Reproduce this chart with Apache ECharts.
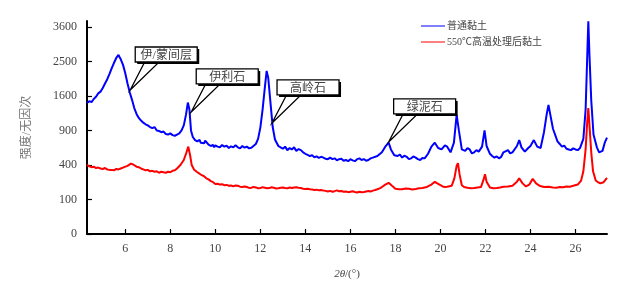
<!DOCTYPE html>
<html lang="zh-CN">
<head>
  <meta charset="utf-8">
  <title>XRD</title>
  <script src="https://cdn.jsdelivr.net/npm/echarts@6/dist/echarts.min.js"></script>
  <style>
    html, body { margin: 0; padding: 0; background: #fff; }
    #main { width: 629px; height: 287px; }
  </style>
</head>
<body>
  <div id="main"></div>
  <script>
    // 图例名称
    var seriesNames = ['普通黏土', '550℃高温处理后黏土'];

    // 刻度
    var xTicks = [6, 8, 10, 12, 14, 16, 18, 20, 22, 24, 26];
    var yTicks = [0, 100, 400, 900, 1600, 2500, 3600];

    // 普通黏土 [2θ, 强度]
    var rawClay = [
      [4.3, 1440], [4.4, 1480], [4.5, 1460], [4.6, 1530], [4.7, 1580], [4.8, 1660], [4.9, 1700],
      [5.0, 1790], [5.1, 1900], [5.2, 2010], [5.3, 2150], [5.4, 2310], [5.5, 2460], [5.6, 2600],
      [5.7, 2690], [5.75, 2620], [5.8, 2560], [5.9, 2400], [6.0, 2170], [6.1, 1900], [6.2, 1680],
      [6.3, 1510], [6.4, 1330], [6.5, 1210], [6.6, 1130], [6.7, 1080], [6.8, 1040], [6.9, 1010],
      [7.0, 990], [7.1, 960], [7.2, 940], [7.3, 960], [7.4, 900], [7.5, 890], [7.6, 870],
      [7.7, 880], [7.8, 840], [7.9, 830], [8.0, 850], [8.1, 820], [8.2, 810], [8.3, 830],
      [8.4, 850], [8.5, 900], [8.6, 990], [8.7, 1200], [8.78, 1450], [8.85, 1300], [8.92, 900],
      [9.0, 790], [9.05, 760], [9.1, 740], [9.15, 760], [9.2, 720], [9.3, 745], [9.35, 700],
      [9.4, 715], [9.5, 690], [9.55, 730], [9.6, 700], [9.7, 670], [9.75, 690], [9.8, 650],
      [9.9, 665], [9.95, 630], [10.0, 660], [10.1, 640], [10.2, 630], [10.3, 665], [10.4, 640],
      [10.5, 655], [10.6, 620], [10.7, 645], [10.8, 630], [10.9, 660], [11.0, 630], [11.1, 615],
      [11.2, 650], [11.3, 625], [11.4, 640], [11.5, 615], [11.6, 625], [11.8, 680], [11.9, 760],
      [12.0, 950], [12.1, 1300], [12.2, 1800], [12.28, 2230], [12.35, 2050], [12.45, 1450],
      [12.55, 960], [12.65, 750], [12.8, 650], [12.9, 630], [13.0, 610], [13.1, 640], [13.2, 590],
      [13.3, 620], [13.4, 600], [13.5, 630], [13.6, 580], [13.7, 605], [13.8, 590], [13.9, 560],
      [14.0, 540], [14.1, 525], [14.2, 510], [14.3, 520], [14.4, 495], [14.5, 505], [14.6, 485],
      [14.7, 500], [14.8, 490], [14.9, 475], [15.0, 470], [15.1, 490], [15.2, 470], [15.3, 480],
      [15.4, 455], [15.5, 470], [15.6, 475], [15.7, 450], [15.8, 460], [15.9, 445], [16.0, 470],
      [16.1, 455], [16.2, 445], [16.3, 470], [16.4, 480], [16.5, 460], [16.6, 470], [16.7, 450],
      [16.8, 460], [16.9, 480], [17.0, 490], [17.2, 510], [17.4, 560], [17.55, 640], [17.7, 700],
      [17.8, 600], [17.95, 520], [18.1, 510], [18.2, 530], [18.3, 490], [18.4, 515], [18.5, 500],
      [18.6, 470], [18.7, 480], [18.8, 505], [18.9, 490], [19.0, 470], [19.1, 460], [19.2, 485],
      [19.3, 480], [19.45, 540], [19.6, 640], [19.75, 700], [19.9, 620], [20.05, 600],
      [20.2, 660], [20.3, 640], [20.45, 560], [20.6, 700], [20.72, 1190], [20.82, 900], [20.95, 600],
      [21.1, 580], [21.2, 620], [21.3, 600], [21.4, 545], [21.5, 560], [21.6, 590], [21.7, 570],
      [21.85, 640], [21.96, 900], [22.05, 650], [22.2, 540], [22.3, 510], [22.4, 490], [22.5, 505],
      [22.6, 480], [22.7, 500], [22.8, 560], [23.0, 590], [23.1, 545], [23.2, 560], [23.4, 650],
      [23.5, 740], [23.6, 630], [23.75, 570], [23.9, 620], [24.0, 650], [24.15, 740], [24.3, 640],
      [24.45, 620], [24.6, 870], [24.72, 1200], [24.8, 1400], [24.9, 1150], [25.0, 930], [25.2, 720],
      [25.3, 680], [25.4, 640], [25.5, 655], [25.6, 610], [25.7, 600], [25.8, 590], [25.9, 615],
      [26.0, 600], [26.1, 590], [26.2, 620], [26.35, 760], [26.45, 1300],
      [26.52, 2600], [26.57, 3800], [26.62, 2700], [26.7, 1500], [26.8, 830], [26.95, 630],
      [27.05, 560], [27.1, 540], [27.2, 580], [27.3, 700], [27.4, 780]
    ];

    // 550℃高温处理后黏土 [2θ, 强度]
    var heatedClay = [
      [4.3, 400], [4.4, 385], [4.5, 375], [4.6, 380], [4.7, 365], [4.8, 370], [4.9, 360],
      [5.0, 355], [5.1, 365], [5.2, 350], [5.3, 345], [5.4, 345], [5.5, 340], [5.6, 355],
      [5.7, 350], [5.8, 360], [5.95, 375], [6.1, 390], [6.25, 415], [6.35, 405], [6.5, 380],
      [6.6, 375], [6.7, 360], [6.8, 350], [6.9, 340], [7.0, 345], [7.1, 330], [7.2, 335],
      [7.3, 325], [7.4, 330], [7.5, 315], [7.6, 325], [7.7, 320], [7.8, 315], [7.9, 325],
      [8.0, 320], [8.1, 335], [8.2, 340], [8.3, 360], [8.45, 400], [8.6, 460], [8.72, 560],
      [8.8, 640], [8.88, 520], [8.95, 400], [9.05, 350], [9.2, 320], [9.3, 305], [9.4, 290],
      [9.5, 280], [9.6, 260], [9.7, 250], [9.8, 235], [9.9, 225], [10.0, 210], [10.1, 212],
      [10.2, 205], [10.3, 208], [10.4, 200], [10.5, 202], [10.6, 195], [10.7, 198], [10.8, 190],
      [10.9, 198], [11.0, 195], [11.1, 188], [11.2, 185], [11.3, 190], [11.4, 185], [11.5, 178],
      [11.6, 180], [11.7, 186], [11.8, 182], [11.9, 176], [12.0, 178], [12.1, 184], [12.2, 180],
      [12.3, 176], [12.4, 177], [12.5, 183], [12.6, 180], [12.7, 174], [12.8, 176], [12.9, 180],
      [13.0, 182], [13.1, 178], [13.2, 175], [13.3, 181], [13.4, 178], [13.5, 182], [13.6, 184],
      [13.7, 180], [13.8, 178], [13.9, 172], [14.0, 170], [14.1, 172], [14.2, 168], [14.3, 166],
      [14.4, 163], [14.5, 165], [14.6, 160], [14.7, 162], [14.8, 158], [14.9, 156], [15.0, 152],
      [15.1, 156], [15.2, 150], [15.3, 154], [15.4, 160], [15.5, 153], [15.6, 155], [15.7, 150],
      [15.8, 152], [15.9, 147], [16.0, 150], [16.1, 153], [16.2, 148], [16.3, 145], [16.4, 150],
      [16.5, 146], [16.6, 148], [16.7, 152], [16.8, 155], [16.9, 152], [17.0, 158], [17.1, 162],
      [17.2, 168], [17.3, 175], [17.4, 185], [17.55, 205], [17.7, 220], [17.85, 195],
      [18.0, 172], [18.15, 168], [18.3, 168], [18.45, 174], [18.6, 172], [18.75, 166], [18.9, 170],
      [19.05, 175], [19.2, 178], [19.4, 186], [19.6, 205], [19.75, 228], [19.9, 210], [20.1, 190],
      [20.2, 186], [20.3, 188], [20.4, 192], [20.5, 195], [20.62, 260], [20.72, 390],
      [20.78, 420], [20.85, 300], [20.95, 200], [21.05, 186], [21.2, 180], [21.35, 176], [21.5, 178],
      [21.65, 182], [21.8, 185], [21.92, 250], [21.98, 300], [22.05, 230], [22.2, 182], [22.35, 176],
      [22.5, 178], [22.65, 182], [22.8, 188], [23.0, 190], [23.2, 196], [23.4, 230], [23.5, 260],
      [23.65, 215], [23.8, 190], [23.95, 205], [24.1, 255], [24.25, 215], [24.4, 195], [24.6, 185],
      [24.8, 188], [25.0, 182], [25.15, 180], [25.3, 186], [25.45, 184], [25.6, 190], [25.75, 188],
      [25.9, 195], [26.1, 205], [26.25, 240], [26.35, 330], [26.45, 600], [26.52, 1050], [26.57, 1330],
      [26.62, 1000], [26.7, 560], [26.78, 330], [26.9, 240], [27.0, 225], [27.1, 215], [27.25, 225],
      [27.4, 265]
    ];

    // 矿物标注：峰位置 [2θ, 强度]
    var mineralNames = ['伊/蒙间层', '伊利石', '高岭石', '绿泥石'];
    var mineralTips = [[6.22, 1740], [8.93, 1250], [12.52, 1035], [17.7, 711]];

    var serifFont = '"Liberation Serif", "Noto Sans CJK SC", serif';

    // y 轴为平方根刻度
    function toSqrt(list) {
      return list.map(function (p) { return [p[0], Math.sqrt(p[1])]; });
    }

    var myChart = echarts.init(document.getElementById('main'));

    var option = {
      animation: false,
      color: ['#0000ff', '#ff0000'],
      grid: { left: 87, right: 22, top: 21, bottom: 53 },
      legend: {
        orient: 'vertical',
        left: 416,
        top: 16,
        itemWidth: 24,
        itemHeight: 8,
        itemGap: 6,
        icon: 'path://M0,4L24,4L24,5L0,5Z',
        textStyle: { fontFamily: serifFont, fontSize: 10, color: '#444', padding: [0, 0, 0, -3] },
        data: seriesNames
      },
      xAxis: {
        type: 'value',
        min: 4.3,
        max: 27.4,
        name: '{i|2θ}/(°)',
        nameLocation: 'middle',
        nameGap: 35,
        nameTextStyle: {
          fontFamily: serifFont, fontSize: 11, color: '#444',
          rich: { i: { fontFamily: serifFont, fontStyle: 'italic', fontSize: 11, color: '#444' } }
        },
        axisLine: { lineStyle: { color: '#000', width: 2 } },
        axisTick: { inside: true, length: 5, customValues: xTicks, lineStyle: { color: '#000', width: 1.2 } },
        axisLabel: { customValues: xTicks, margin: 9, fontFamily: serifFont, fontSize: 12, color: '#444' },
        splitLine: { show: false }
      },
      yAxis: {
        type: 'value',
        min: 0,
        max: 61.7,
        name: '强度/无因次',
        nameLocation: 'middle',
        nameGap: 54,
        nameTextStyle: { fontFamily: serifFont, fontSize: 12, color: '#777' },
        axisLine: { show: true, lineStyle: { color: '#000', width: 2 } },
        axisTick: {
          show: true, inside: true, length: 5,
          customValues: yTicks.map(Math.sqrt),
          lineStyle: { color: '#000', width: 1.2 }
        },
        axisLabel: {
          customValues: yTicks.map(Math.sqrt),
          margin: 10,
          fontFamily: serifFont, fontSize: 12, color: '#444',
          formatter: function (v) { return String(Math.round(v * v)); }
        },
        splitLine: { show: false }
      },
      series: [{
        name: seriesNames[0],
        type: 'line',
        showSymbol: false,
        lineStyle: { width: 2, color: '#0000ff' },
        data: toSqrt(rawClay),
        z: 3
      }, {
        name: seriesNames[1],
        type: 'line',
        showSymbol: false,
        lineStyle: { width: 2, color: '#ff0000' },
        data: toSqrt(heatedClay),
        z: 2
      }]
    };

    myChart.setOption(option);

    // 标注框（带指针）
    var graphics = [];
    mineralNames.forEach(function (name, i) {
      var tip = myChart.convertToPixel({ gridIndex: 0 }, [mineralTips[i][0], Math.sqrt(mineralTips[i][1])]);
      var bx = tip[0] + 5, by = tip[1] - 43, bw = 62, bh = 15;
      graphics.push({
        type: 'polygon', z: 100,
        shape: { points: [[bx + 10, by + bh - 1], tip, [bx + 25, by + bh - 1]] },
        style: { fill: '#fff', stroke: '#000', lineWidth: 1.3 }
      });
      graphics.push({
        type: 'rect', z: 100,
        shape: { x: bx + 2, y: by + 2, width: bw, height: bh },
        style: { fill: '#000' }
      });
      graphics.push({
        type: 'rect', z: 101,
        shape: { x: bx, y: by, width: bw, height: bh },
        style: { fill: '#fff', stroke: '#000', lineWidth: 1.3 }
      });
      graphics.push({
        type: 'text', z: 102,
        x: bx + bw / 2, y: by + bh / 2 + 1,
        style: {
          text: name, fill: '#444', fontSize: 12, fontFamily: serifFont,
          align: 'center', verticalAlign: 'middle'
        }
      });
    });
    myChart.setOption({ graphic: graphics });
  </script>
</body>
</html>
